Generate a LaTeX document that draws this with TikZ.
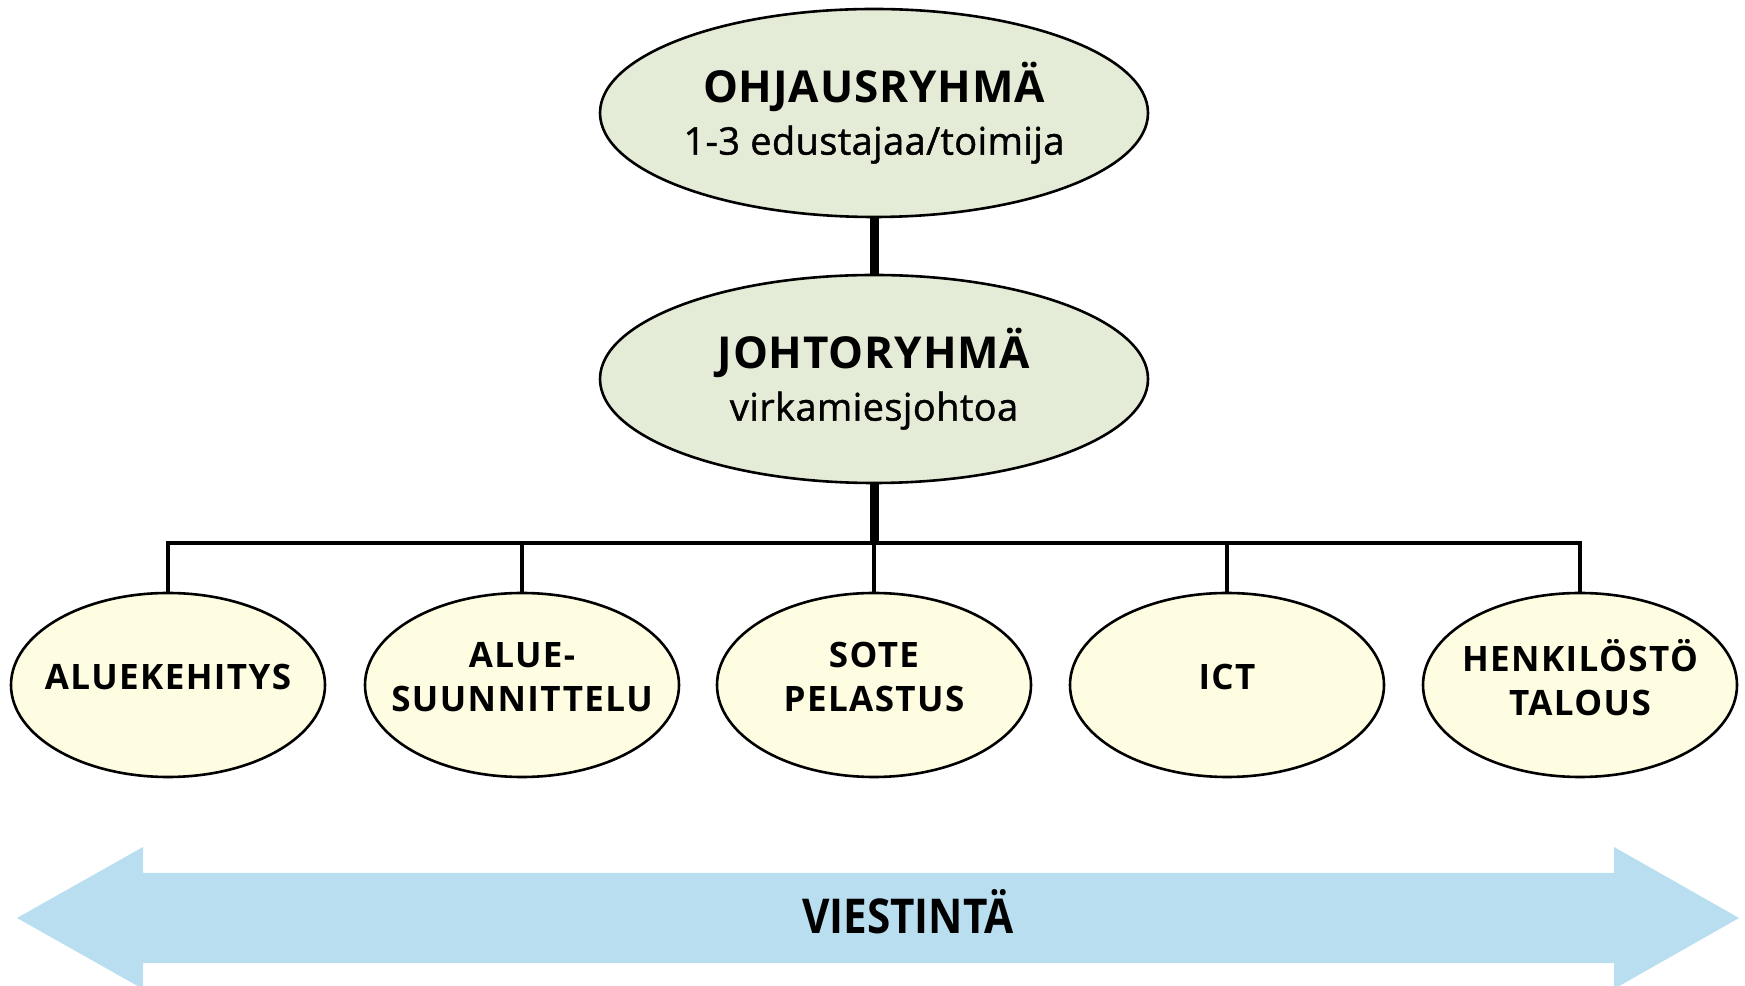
\documentclass[tikz,border=0pt]{standalone}
\usepackage{fontspec}
\setmainfont{Open Sans}
\newfontfamily\titlefont[LetterSpace=2]{Open Sans}
\newfontfamily\capsfont[LetterSpace=4]{Open Sans}
\newfontfamily\subfont[LetterSpace=1,FakeBold=1.2]{Open Sans}
\newfontfamily\narrowfont[FakeStretch=0.88]{Open Sans}
\usetikzlibrary{shapes.geometric}

\definecolor{groupgreen}{HTML}{E4EBD6}
\definecolor{teamyellow}{HTML}{FEFCE1}
\definecolor{flowblue}{HTML}{B9DEF0}

\begin{document}
\begin{tikzpicture}[x=0.5pt, y=0.5pt,
  group/.style={ellipse, draw, line width=1.3pt, fill=groupgreen, minimum width=274pt, minimum height=104pt, inner sep=0pt, align=center, font=\fontsize{19}{26}\subfont},
  team/.style={ellipse, draw, line width=1.3pt, fill=teamyellow, minimum width=157pt, minimum height=92pt, inner xsep=-20pt, inner ysep=0pt, text depth=8pt, align=center, font=\fontsize{17.5}{22}\capsfont\bfseries},
  trunk/.style={line width=4.5pt},
  branch/.style={line width=2.2pt}]
  \useasboundingbox (0,0) rectangle (1745,985);

    \node[group] (g1) at (874,872) {{\fontsize{22}{26}\titlefont\bfseries OHJAUSRYHMÄ}\\1-3 edustajaa/toimija};
    \node[group] (g2) at (874,606) {{\fontsize{22}{26}\titlefont\bfseries JOHTORYHMÄ}\\virkamiesjohtoa};

    \node[team] (w1) at (168,300) {ALUEKEHITYS};
    \node[team] (w2) at (522,300) {ALUE-\\SUUNNITTELU};
    \node[team] (w3) at (874,300) {SOTE\\PELASTUS};
    \node[team] (w4) at (1227,300) {ICT};
    \node[team] (w5) at (1580,300) {HENKILÖSTÖ\\TALOUS};

    \coordinate (bar) at (874,442);

    \draw[trunk] (g1) to (g2);
    \draw[trunk] (g2.south) to (g2.south |- bar);
    \draw[branch] (w1.north) |- (bar) -| (w5.north);
    \draw[branch] (w2.north) to (w2.north |- bar);
    \draw[branch] (w3.north) to (w3.north |- bar);
    \draw[branch] (w4.north) to (w4.north |- bar);

    % viestinta arrow
    \fill[flowblue] (17,67) -- (143,138) -- (143,112) -- (1614,112) -- (1614,138) -- (1739,67)
      -- (1614,-4) -- (1614,22) -- (143,22) -- (143,-4) -- cycle;
    \node[font=\fontsize{24}{26}\narrowfont\bfseries] (flow) at (908,73) {VIESTINTÄ};

\end{tikzpicture}
\end{document}
